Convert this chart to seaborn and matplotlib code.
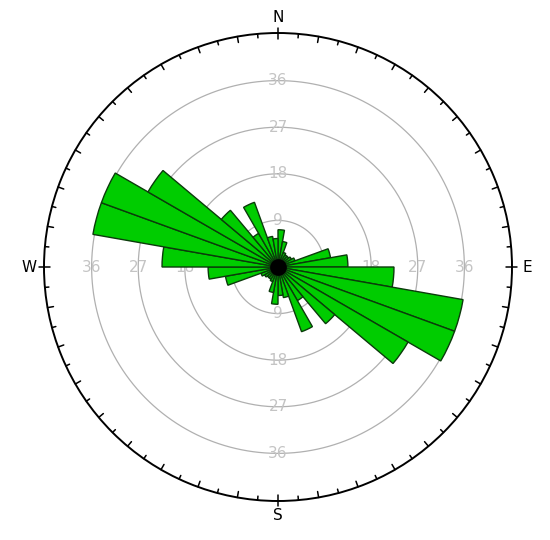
import numpy as np
import seaborn as sns
import matplotlib.pyplot as plt

# rose diagram data: 10 degree bins, azimuth clockwise from north
bin_start = np.arange(0, 360, 10)
half_counts = [7.2, 5.0, 3.0, 2.7, 2.7, 3.0, 3.5, 10.3, 13.5,
               22.4, 36.3, 36.3, 29.0, 14.3, 7.5, 13.3, 6.0, 5.5]
counts = half_counts + half_counts  # axial data, mirrored
ring_values = [9, 18, 27, 36]
cardinals = ["N", "E", "S", "W"]
cardinal_az = [0, 90, 180, 270]

sns.set_theme(style="white")
plt.rcParams['font.family'] = ['DejaVu Sans']

fig = plt.figure(figsize=(5.5, 5.4), dpi=100)
R_px = 234
rmax = 45.2
ax = fig.add_axes([(278 - R_px) / 550, (540 - 267 - R_px) / 540,
                   2 * R_px / 550, 2 * R_px / 540], projection='polar')
ax.set_theta_zero_location('N')
ax.set_theta_direction(-1)
ax.set_ylim(0, rmax)
ax.grid(False)
ax.set_xticks([])
ax.set_yticks([])
ax.spines['polar'].set_linewidth(1.4)
ax.spines['polar'].set_color('black')

th = np.linspace(0, 2 * np.pi, 400)
for rv in ring_values:
    ax.plot(th, np.full_like(th, rv), color='#b0b0b0', lw=0.9, zorder=1)
    for az in cardinal_az:
        ax.text(np.deg2rad(az), rv, str(rv), color='#c4c4c4', fontsize=11,
                ha='center', va='center', zorder=1)

ax.bar(np.deg2rad(bin_start), counts, width=np.deg2rad(10), align='edge',
       color='#00cc00', edgecolor='#0b3b0b', linewidth=1.0, zorder=3)
ax.plot([0], [0], 'o', color='black', ms=11, zorder=4)

# compass ticks every 5 degrees, inward
px = rmax / R_px
for az in range(0, 360, 5):
    t = np.deg2rad(az)
    if az % 90 == 0:
        r0, r1 = rmax - 6 * px, rmax + 5 * px
    elif az % 10 == 0:
        r0, r1 = rmax - 6 * px, rmax
    else:
        r0, r1 = rmax - 4 * px, rmax
    ax.plot([t, t], [r0, r1], color='black', lw=1.1, clip_on=False, zorder=5)

for lab, az in zip(cardinals, cardinal_az):
    ax.text(np.deg2rad(az), rmax + 15 * px, lab, fontsize=11, color='black',
            ha='center', va='center', clip_on=False)

fig.savefig('out.png', dpi=100)
